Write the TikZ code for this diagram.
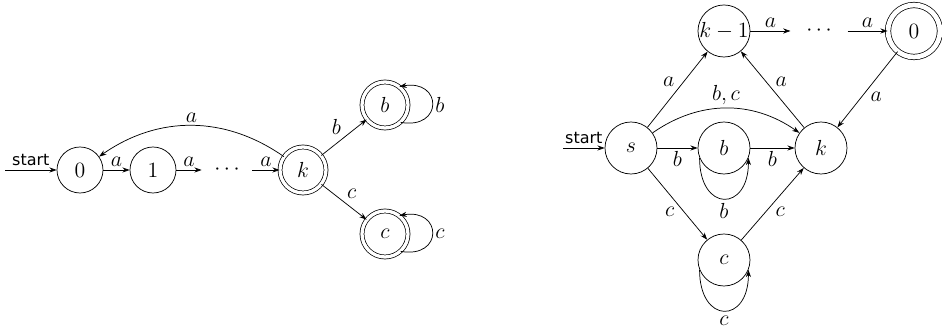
\documentclass[tikz,border=0pt]{standalone}
\usepackage{fontspec}
\newfontfamily\startfont{DejaVu Sans}
\usetikzlibrary{arrows.meta}
\begin{document}
\begin{tikzpicture}[x=0.55pt,y=-0.55pt,
  >={Stealth[length=4pt,width=2.8pt]},
  every node/.style={font=\fontsize{12}{14}\selectfont},
  every edge/.style={draw,->},
  lstate/.style={circle,draw,minimum size=25.3pt,inner sep=0pt},
  rstate/.style={circle,draw,minimum size=28.6pt,inner sep=0pt},
  acc/.style={double,double distance=1.8pt},
  racc/.style={double,double distance=2.6pt},
  dotsnode/.style={inner sep=0pt,minimum height=10pt},
  lab/.style={inner sep=1.5pt},
  starttext/.style={font=\startfont\fontsize{8.8}{10}\selectfont,inner sep=2pt}]
\useasboundingbox (0,0) rectangle (942,334);

% ---------- left automaton ----------
\node[lstate] (L0) at (80,170) {$0$};
\node[lstate] (L1) at (153,170) {$1$};
\node[dotsnode,minimum width=27.5pt] (Ld) at (227,170) {$\cdots$};
\node[lstate,acc] (Lk) at (303,170) {$k$};
\node[lstate,acc] (Lb) at (385,105) {$b$};
\node[lstate,acc] (Lc) at (385,234) {$c$};
\coordinate (Ls) at (5,170);

\draw[->] (Ls) -- node[starttext,above] {start} (L0);
\path (L0) edge node[lab,above] {$a$} (L1)
      (L1) edge node[lab,above] {$a$} (Ld)
      (Ld) edge node[lab,above] {$a$} (Lk)
      (Lk) edge[bend right=35] node[lab,above] {$a$} (L0)
      (Lk) edge node[lab,above left] {$b$} (Lb)
      (Lk) edge node[lab,above right] {$c$} (Lc);
\draw[->] (Lb.-48) .. controls +(-10:24pt) and +(10:24pt) .. node[lab,right] {$b$} (Lb.52);
\draw[->] (Lc.-48) .. controls +(-10:24pt) and +(10:24pt) .. node[lab,right] {$c$} (Lc.52);

% ---------- right automaton ----------
\node[rstate] (Rs) at (631,148) {$s$};
\node[rstate] (Rk1) at (724,31) {$k-1$};
\node[dotsnode,minimum width=31pt] (Rd) at (819,31) {$\cdots$};
\node[rstate,racc] (R0) at (914,31) {$0$};
\node[rstate] (Rb) at (724,148) {$b$};
\node[rstate] (Rk) at (821,148) {$k$};
\node[rstate] (Rc) at (724,260) {$c$};
\coordinate (Rstart) at (563,148);

\draw[->] (Rstart) -- node[starttext,above] {start} (Rs);
\path (Rs) edge node[lab,above left] {$a$} (Rk1)
      (Rs) edge[bend left=35] node[lab,above] {$b,c$} (Rk)
      (Rs) edge node[lab,below] {$b$} (Rb)
      (Rb) edge node[lab,below] {$b$} (Rk)
      (Rk) edge node[lab,above right] {$a$} (Rk1)
      (R0) edge node[lab,below right] {$a$} (Rk)
      (Rk1) edge node[lab,above] {$a$} (Rd)
      (Rd) edge node[lab,above] {$a$} (R0)
      (Rs) edge node[lab,below left] {$c$} (Rc)
      (Rc) edge node[lab,below right] {$c$} (Rk);
\draw[->] (Rb.-158) .. controls +(-90:30pt) and +(-90:30pt) .. node[lab,below,inner sep=2.5pt] {$b$} (Rb.-22);
\draw[->] (Rc.-158) .. controls +(-90:30pt) and +(-90:30pt) .. node[lab,below,inner sep=2.5pt] {$c$} (Rc.-22);
\end{tikzpicture}
\end{document}
